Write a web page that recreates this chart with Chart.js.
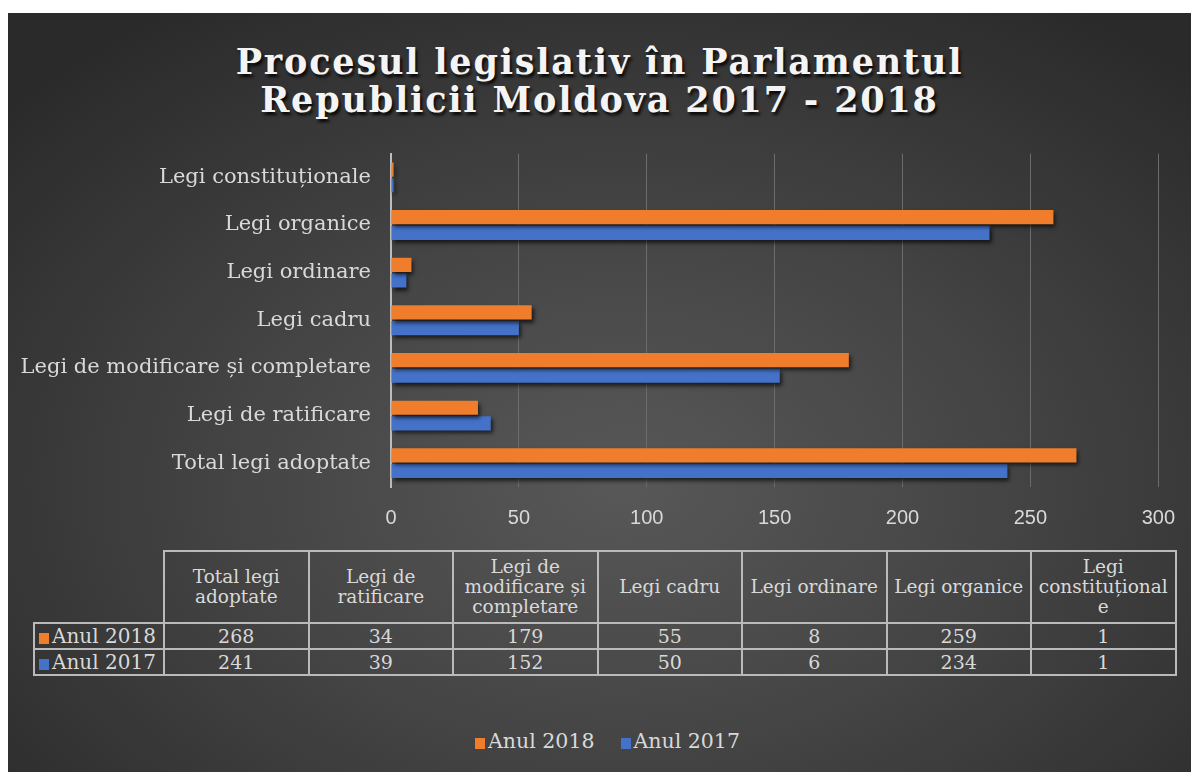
<!DOCTYPE html>
<html>
<head>
<meta charset="utf-8">
<script src="https://cdn.jsdelivr.net/npm/chart.js"></script>
<style>
  body { margin: 0; background: #fff; width: 1191px; height: 772px; overflow: hidden; }
  #board {
    position: absolute; left: 8px; top: 13px; width: 1183px; height: 759px; overflow: hidden;
    background: radial-gradient(ellipse 70% 75% at 52% 62%, #585858 0%, #454545 45%, #2a2a2a 100%);
    font-family: "DejaVu Serif", serif; color: #d9d9d9;
  }
  #title {
    position: absolute; left: 0; top: 30px; width: 100%; text-align: center;
    font-weight: bold; font-size: 35px; line-height: 38px; color: #f4f4f4;
    letter-spacing: 1.8px; text-shadow: 2px 3px 3px rgba(0,0,0,0.85);
  }
  #wrap { position: absolute; left: 0; top: 108px; width: 1186px; height: 410px; }
  #tbl {
    position: absolute; left: 25px; top: 537px; border-collapse: collapse;
    font-size: 18.5px; line-height: 20px; table-layout: fixed;
  }
  #tbl td { border: 2px solid #bababa; text-align: center; padding: 0; }
  #tbl tr.head td { height: 70px; white-space: pre-line; }
  #tbl tr.row td { height: 24px; font-size: 19px; }
  #tbl td.corner { border-top: none; border-left: none; }
  #tbl tr.row td.lab { text-align: left; padding-left: 4px; white-space: nowrap; font-size: 20px; }
  .box { display: inline-block; width: 10px; height: 11px; margin-right: 3px; vertical-align: -1px; }
  #legend {
    position: absolute; left: 8px; width: 100%; top: 716px; text-align: center;
    font-size: 20.5px; line-height: 24px;
  }
  #legend span.item { margin: 0 13px; }
</style>
</head>
<body>
<div id="board">
  <div id="title">Procesul legislativ în Parlamentul<br>Republicii Moldova 2017 - 2018</div>
  <div id="wrap"><canvas id="myChart"></canvas></div>
  <table id="tbl"></table>
  <div id="legend"></div>
</div>
<script>
// categories in table order (bottom to top in the chart)
const categories = ["Total legi adoptate", "Legi de ratificare", "Legi de modificare și completare",
  "Legi cadru", "Legi ordinare", "Legi organice", "Legi constituționale"];
const tableHeaders = ["Total legi\nadoptate", "Legi de\nratificare", "Legi de\nmodificare și\ncompletare",
  "Legi cadru", "Legi ordinare", "Legi organice", "Legi\nconstituțional\ne"];
const seriesNames = ["Anul 2018", "Anul 2017"];
const anul2018 = [268, 34, 179, 55, 8, 259, 1];
const anul2017 = [241, 39, 152, 50, 6, 234, 1];
const colors = ["#F07D2C", "#4472C9"];

const series = [anul2018, anul2017];

// bar shadow
const shadowPlugin = {
  id: "barShadow",
  beforeDatasetsDraw(chart) {
    const c = chart.ctx;
    c.save();
    c.shadowColor = "rgba(0,0,0,0.65)";
    c.shadowBlur = 4;
    c.shadowOffsetX = 2;
    c.shadowOffsetY = 3;
  },
  afterDatasetsDraw(chart) {
    chart.ctx.restore();
  }
};

const ctx = document.getElementById("myChart");

new Chart(ctx, {
  type: "bar",
  data: {
    labels: categories,
    datasets: seriesNames.map((name, i) => ({
      label: name,
      data: series[i],
      backgroundColor: colors[i],
      borderWidth: 0,
      categoryPercentage: 0.66,
      barPercentage: 0.9,
    })),
  },
  options: {
    indexAxis: "y",
    responsive: true,
    maintainAspectRatio: false,
    animation: false,
    layout: { padding: { top: 12, right: 20, left: 0, bottom: 0 } },
    plugins: {
      legend: { display: false },
      tooltip: { enabled: false },
    },
    scales: {
      x: {
        min: 0,
        max: 300,
        ticks: {
          stepSize: 50,
          color: "#d9d9d9",
          padding: 19,
          font: { family: "'Liberation Sans Narrow', 'Liberation Sans', sans-serif", size: 20 },
        },
        grid: { color: "#6c6c6c", lineWidth: 1, drawTicks: false },
        border: { display: false },
        afterFit(scale) { scale.height = 44; },
      },
      y: {
        reverse: true,
        ticks: {
          color: "#d9d9d9",
          padding: 20,
          font: { family: "'DejaVu Serif', serif", size: 21 },
        },
        grid: { display: false, drawTicks: false },
        border: { color: "#bdbdbd", width: 2 },
        afterFit(scale) { scale.width = 383; },
      },
    },
  },
  plugins: [shadowPlugin],
});

// data table under the chart
const tbl = document.getElementById("tbl");
let html = '<colgroup><col style="width:130px">' + categories.map(() => '<col style="width:144.5px">').join("") + "</colgroup>";
html += '<tr class="head"><td class="corner"></td>' + tableHeaders.map(h => "<td>" + h + "</td>").join("") + "</tr>";
seriesNames.forEach((name, i) => {
  html += '<tr class="row"><td class="lab"><span class="box" style="background:' + colors[i] + '"></span>' + name + "</td>" +
    series[i].map(v => "<td>" + v + "</td>").join("") + "</tr>";
});
tbl.innerHTML = html;

// legend
document.getElementById("legend").innerHTML = seriesNames.map((name, i) =>
  '<span class="item"><span class="box" style="background:' + colors[i] + '"></span>' + name + "</span>").join("");
</script>
</body>
</html>
